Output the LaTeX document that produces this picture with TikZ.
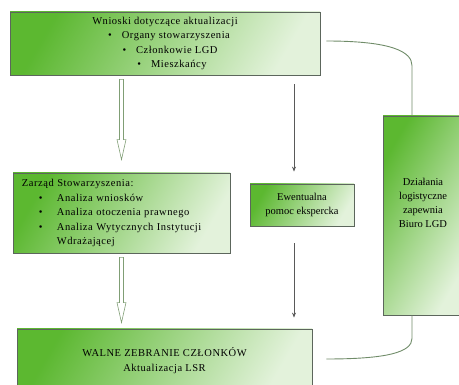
\documentclass[tikz,border=0pt]{standalone}
\usepackage{fontspec}
\setmainfont{Liberation Serif}
\newfontfamily\spacedserif{Liberation Serif}[LetterSpace=5]
\usepackage{tikz}
\usetikzlibrary{calc,arrows.meta}
\definecolor{leaf dark}{rgb}{0.36, 0.72, 0.19}
\definecolor{leaf light}{rgb}{0.89, 0.95, 0.86}
\definecolor{box edge}{rgb}{0.36, 0.40, 0.36}
\definecolor{link green}{rgb}{0.44, 0.55, 0.41}
\definecolor{hollow edge}{rgb}{0.50, 0.62, 0.46}

\tikzset{
	greenbox/.style={draw=box edge, line width=0.8pt, top color=leaf dark, bottom color=leaf light, shading angle=60, inner sep=0pt},
	boxtext/.style={font=\fontsize{10.5pt}{14pt}\selectfont, text=black},
	spacedtext/.style={font=\spacedserif\fontsize{10.5pt}{14.5pt}\selectfont, text=black},
	thinarrow/.style={draw=black!65, line width=0.7pt, -{Stealth[length=5pt, width=4pt]}},
	linkline/.style={draw=link green, line width=0.9pt}
}

% hollow block arrow from #1 down to #2
\newcommand{\openarrow}[2]{%
	\filldraw[fill=white, draw=hollow edge, line width=0.6pt]
		($(#1)+(-2,0)$) -- ($(#2)+(-2,-20)$) -- ($(#2)+(-4.5,-20)$) -- (#2)
		-- ($(#2)+(4.5,-20)$) -- ($(#2)+(2,-20)$) -- ($(#1)+(2,0)$) -- cycle;}

\newcommand{\punkt}{\hspace*{17pt}\makebox[18pt][l]{\textbullet}}

\begin{document}
\begin{tikzpicture}[x=1pt, y=-1pt]
			\useasboundingbox (0,0) rectangle (459,385);
			\clip (0,0) rectangle (459,385);
			% boxes
			\node[greenbox, spacedtext, minimum width=310, minimum height=63, align=center] (wnioski) at (165,43.5)
				{Wnioski dotyczące aktualizacji\\
				 \hspace*{8pt}\textbullet\hspace{10pt}Organy stowarzyszenia\\
				 \hspace*{10pt}\textbullet\hspace{10pt}Członkowie LGD\\
				 \hspace*{14pt}\textbullet\hspace{10pt}Mieszkańcy};
			\node[greenbox, spacedtext, text width=199pt, inner xsep=9pt, minimum height=80, align=left] (zarzad) at (121.5,213)
				{Zarząd Stowarzyszenia:\\
				 \punkt Analiza wniosków\\
				 \punkt Analiza otoczenia prawnego\\
				 \punkt Analiza Wytycznych Instytucji\\
				 \hspace*{35pt}Wdrażającej};
			\node[greenbox, boxtext, minimum width=104, minimum height=42, align=center] (pomoc) at (302,205)
				{Ewentualna\\pomoc ekspercka};
			\node[greenbox, minimum width=80, minimum height=199] (biuro) at (423,215.5) {};
			\node[boxtext, align=center] (biurotekst) at ($(biuro.center)+(0,-13)$)
				{Działania\\logistyczne\\zapewnia\\Biuro LGD};
			\node[greenbox, spacedtext, minimum width=295, minimum height=63, align=center] (walne) at (164.5,360.5)
				{WALNE ZEBRANIE CZŁONKÓW\\Aktualizacja LSR};
			% hollow arrows on the left
			\coordinate (hollowtop1) at ($(wnioski.south -| zarzad.north)+(0,4)$);
			\coordinate (hollowtip1) at ($(zarzad.north)+(0,-13)$);
			\coordinate (hollowtop2) at ($(zarzad.south)+(0,4)$);
			\coordinate (hollowtip2) at ($(walne.north -| zarzad.south)+(0,-6)$);
			\openarrow{hollowtop1}{hollowtip1}
			\openarrow{hollowtop2}{hollowtip2}
			% thin arrows through the expert box
			\coordinate (thintop1) at ($(wnioski.south -| pomoc.north)+(-8,9)$);
			\coordinate (thintip1) at ($(pomoc.north)+(-8,-12)$);
			\coordinate (thintop2) at ($(pomoc.south)+(-8,17)$);
			\coordinate (thintip2) at ($(walne.north -| pomoc.south)+(-8,-11)$);
			\draw[thinarrow] (thintop1) -- (thintip1);
			\draw[thinarrow] (thintop2) -- (thintip2);
			% links to the office box
			\draw[linkline] ($(wnioski.east)+(6,-2.5)$) .. controls +(65,0) and +(0,-14) .. ($(biuro.north)+(-11,-50)$) -- ($(biuro.north)+(-11,0)$);
			\draw[linkline] ($(biuro.south)+(-11,0)$) -- ($(biuro.south)+(-11,23)$) .. controls +(0,14) and +(60,0) .. ($(walne.east)+(14,-1.5)$);
		\end{tikzpicture}
\end{document}
